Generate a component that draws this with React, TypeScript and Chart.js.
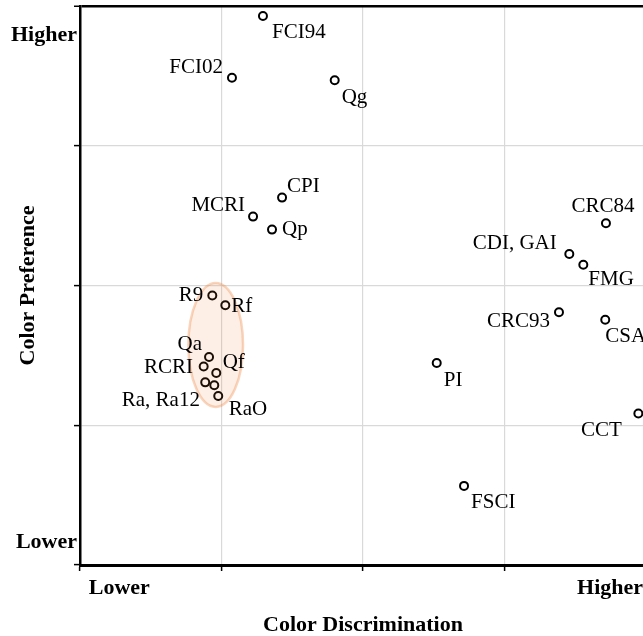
import React, { useEffect, useRef } from 'react';
import { Chart, registerables } from 'chart.js';

Chart.register(...registerables);

// ---- data ----
const indexNames = ['FCI94', 'FCI02', 'Qg', 'CPI', 'MCRI', 'Qp', 'R9', 'Rf', 'CRC84', 'CDI, GAI', 'FMG', 'CRC93', 'CSA', 'PI', 'CCT', 'FSCI', 'Qa', 'RCRI', 'Qf', 'Ra', 'Ra12', 'RaO'];
const discrimination = [1.293, 1.074, 1.8, 1.428, 1.223, 1.357, 0.935, 1.027, 3.717, 3.458, 3.557, 3.385, 3.712, 2.521, 3.946, 2.714, 0.912, 0.874, 0.963, 0.885, 0.949, 0.977];
const preference = [3.929, 3.486, 3.469, 2.629, 2.493, 2.4, 1.929, 1.859, 2.445, 2.226, 2.148, 1.809, 1.755, 1.445, 1.084, 0.566, 1.488, 1.421, 1.374, 1.307, 1.286, 1.209];
const pointLabels = ['FCI94', 'FCI02', 'Qg', 'CPI', 'MCRI', 'Qp', 'R9', 'Rf', 'CRC84', 'CDI, GAI', 'FMG', 'CRC93', 'CSA', 'PI', 'CCT', 'FSCI', 'Qa', 'RCRI', 'Qf', 'Ra, Ra12', '', 'RaO'];

const xGridValues = [0, 1, 2, 3, 4];
const yGridValues = [0, 1, 2, 3, 4];
const xAxisLabelValues = [0.278, 3.746];
const xAxisLabels = ['Lower', 'Higher'];
const yAxisLabelValues = [0.164, 3.793];
const yAxisLabels = ['Lower', 'Higher'];

const clusterCenter = [0.959, 1.574];
const clusterRadii = [0.193, 0.443];

// ---- label placement (offset from point in px, alignment) ----
const labelPlacement: [number, number, CanvasTextAlign][] = [
  [9, 17, 'left'], [-9, -10, 'right'], [7, 17, 'left'], [5, -11.5, 'left'], [-8, -11.5, 'right'],
  [10, 0, 'left'], [-9, 0, 'right'], [6, 1, 'left'], [-3, -17, 'center'], [-12.6, -10, 'right'],
  [5, 15, 'left'], [-9, 9, 'right'], [0, 17, 'left'], [7, 17, 'left'], [-16.6, 17, 'right'],
  [7, 17, 'left'], [-7, -13, 'right'], [-10.7, 1, 'right'], [6.4, -10.7, 'left'], [-5.3, 18.3, 'right'],
  [0, 0, 'left'], [10.4, 13.3, 'left'],
];

const FONT = '"Liberation Serif", "Times New Roman", serif';

const overlayPlugin = {
  id: 'overlay',
  afterDatasetsDraw(chart: any) {
    const { ctx } = chart;
    const x = chart.scales.x;
    const y = chart.scales.y;
    ctx.save();
    const cx = x.getPixelForValue(clusterCenter[0]);
    const cy = y.getPixelForValue(clusterCenter[1]);
    const rx = x.getPixelForValue(clusterCenter[0] + clusterRadii[0]) - cx;
    const ry = cy - y.getPixelForValue(clusterCenter[1] + clusterRadii[1]);
    ctx.beginPath();
    ctx.ellipse(cx, cy, rx, ry, 0, 0, Math.PI * 2);
    ctx.fillStyle = 'rgba(237,125,49,0.12)';
    ctx.fill();
    ctx.strokeStyle = 'rgba(237,125,49,0.32)';
    ctx.lineWidth = 2.5;
    ctx.stroke();

    const meta = chart.getDatasetMeta(0);
    ctx.font = '21px ' + FONT;
    ctx.fillStyle = '#000';
    ctx.textBaseline = 'middle';
    meta.data.forEach((el: any, i: number) => {
      const text = pointLabels[i];
      if (!text) return;
      const [dx, dy, align] = labelPlacement[i];
      ctx.textAlign = align;
      ctx.fillText(text, el.x + dx, el.y + dy);
    });
    ctx.restore();
  },
};

function zeroPadding(axis: any) {
  axis.paddingTop = 0;
  axis.paddingBottom = 0;
  axis.paddingLeft = 0;
  axis.paddingRight = 0;
}

export default function App() {
  const canvasRef = useRef<HTMLCanvasElement | null>(null);

  useEffect(() => {
    if (!canvasRef.current) return;
    const xLabelMap = new Map(xAxisLabelValues.map((v, i) => [v, xAxisLabels[i]]));
    const yLabelMap = new Map(yAxisLabelValues.map((v, i) => [v, yAxisLabels[i]]));

    const chart = new Chart(canvasRef.current, {
      type: 'scatter',
      data: {
        labels: indexNames,
        datasets: [
          {
            data: discrimination.map((d, i) => ({ x: d, y: preference[i] })),
            pointRadius: 4,
            pointHoverRadius: 4,
            pointBorderWidth: 2,
            borderColor: '#000',
            backgroundColor: '#fff',
            pointStyle: 'circle',
          },
        ],
      },
      options: {
        animation: false,
        responsive: false,
        devicePixelRatio: 1,
        events: [],
        layout: { padding: { top: 5, left: 0, right: 0, bottom: 0 } },
        plugins: { legend: { display: false }, tooltip: { enabled: false } },
        scales: {
          x: {
            type: 'linear',
            min: 0,
            max: 4,
            afterBuildTicks: (axis: any) => {
              axis.ticks = [...xGridValues, ...xAxisLabelValues].sort((a, b) => a - b).map((v) => ({ value: v }));
            },
            afterFit: (axis: any) => {
              axis.height = 71;
              zeroPadding(axis);
            },
            grid: {
              color: (c: any) => {
                const v = c.tick?.value;
                if (xLabelMap.has(v) || v === 0) return 'rgba(0,0,0,0)';
                return '#d9d9d9';
              },
              tickColor: (c: any) => (xLabelMap.has(c.tick?.value) ? 'rgba(0,0,0,0)' : '#000'),
              lineWidth: 1.2,
              tickLength: 6,
              tickWidth: 1.5,
              drawTicks: true,
            },
            border: { color: '#000', width: 3 },
            ticks: {
              autoSkip: false,
              maxRotation: 0,
              padding: 4,
              color: '#000',
              font: { family: FONT, size: 22, weight: 'bold' },
              callback: (value: any) => xLabelMap.get(value) ?? '',
            },
            title: {
              display: true,
              text: 'Color Discrimination',
              color: '#000',
              font: { family: FONT, size: 22, weight: 'bold', lineHeight: 1 },
              padding: { top: 0, bottom: 0 },
            },
          },
          y: {
            type: 'linear',
            min: 0,
            max: 4,
            afterBuildTicks: (axis: any) => {
              axis.ticks = [...yGridValues, ...yAxisLabelValues].sort((a, b) => a - b).map((v) => ({ value: v }));
            },
            afterFit: (axis: any) => {
              axis.width = 80;
              zeroPadding(axis);
            },
            grid: {
              color: (c: any) => {
                const v = c.tick?.value;
                if (yLabelMap.has(v) || v === 0) return 'rgba(0,0,0,0)';
                if (v === 4) return '#000';
                return '#d9d9d9';
              },
              lineWidth: (c: any) => (c.tick?.value === 4 ? 2.5 : 1.2),
              tickColor: (c: any) => (yLabelMap.has(c.tick?.value) ? 'rgba(0,0,0,0)' : '#000'),
              tickLength: 6,
              tickWidth: 1.5,
              drawTicks: true,
            },
            border: { color: '#000', width: 2.5 },
            ticks: {
              autoSkip: false,
              padding: -3,
              color: '#000',
              font: { family: FONT, size: 22, weight: 'bold' },
              callback: (value: any) => yLabelMap.get(value) ?? '',
            },
            title: {
              display: true,
              text: 'Color Preference',
              color: '#000',
              font: { family: FONT, size: 22, weight: 'bold', lineHeight: 1 },
              padding: { top: 17, bottom: 0 },
            },
          },
        },
      } as any,
      plugins: [overlayPlugin],
    });
    return () => chart.destroy();
  }, []);

  return (
    <div style={{ position: 'fixed', left: 0, top: 0, width: 643, height: 636, overflow: 'hidden', background: '#fff' }}>
      <canvas ref={canvasRef} width={652} height={636} style={{ display: 'block' }} />
    </div>
  );
}
